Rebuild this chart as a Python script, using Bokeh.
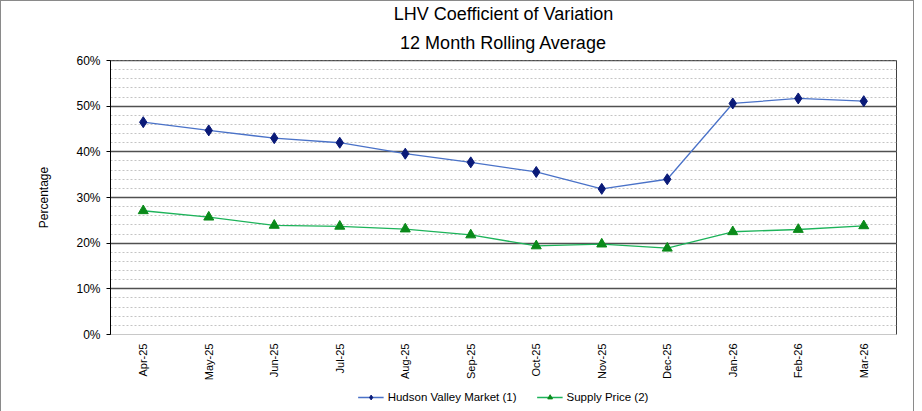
import math
from bokeh.plotting import figure
from bokeh.layouts import column
from bokeh.models import (ColumnDataSource, NumeralTickFormatter, SingleIntervalTicker,
                          Legend, LegendItem, FactorRange, Title, Range1d)
from bokeh.embed import file_html
from bokeh.resources import INLINE

months = ["Apr-25", "May-25", "Jun-25", "Jul-25", "Aug-25", "Sep-25",
          "Oct-25", "Nov-25", "Dec-25", "Jan-26", "Feb-26", "Mar-26"]
hudson_valley = [0.465, 0.447, 0.430, 0.420, 0.396, 0.377,
                 0.356, 0.319, 0.340, 0.506, 0.517, 0.511]
supply_price = [0.271, 0.257, 0.239, 0.237, 0.231, 0.218,
                0.194, 0.198, 0.189, 0.225, 0.230, 0.238]
series_names = ["Hudson Valley Market (1)", "Supply Price (2)"]

src = ColumnDataSource(dict(m=months, hv=hudson_valley, sp=supply_price))

FONT = "Liberation Sans"
HV_LINE, HV_MARK = "#4a72c8", "#0a1a78"
SP_LINE, SP_MARK = "#1db35a", "#0a8a1a"

p = figure(width=912, height=382, x_range=FactorRange(*months, range_padding=0),
           y_range=Range1d(0, 0.6001), output_backend="svg", toolbar_location=None,
           min_border_left=109, min_border_right=17, min_border_top=10,
           min_border_bottom=41, title=None)

sub = Title(text="12 Month Rolling Average", align="center", text_font=FONT,
            text_font_size="18px", text_font_style="normal", text_color="#000000",
            offset=0, standoff=15)
main = Title(text="LHV Coefficient of Variation", align="center", text_font=FONT,
             text_font_size="18px", text_font_style="normal", text_color="#000000",
             offset=0, standoff=0)
p.add_layout(sub, "above")
p.add_layout(main, "above")

p.outline_line_color = "#404040"
p.outline_line_width = 1

# y axis
p.yaxis.ticker = SingleIntervalTicker(interval=0.1, num_minor_ticks=5)
p.yaxis.formatter = NumeralTickFormatter(format="0%")
p.yaxis.axis_label = "Percentage"
p.yaxis.axis_label_text_font = FONT
p.yaxis.axis_label_text_font_size = "12px"
p.yaxis.axis_label_text_font_style = "normal"
p.yaxis.axis_label_text_color = "#000000"
p.yaxis.axis_label_standoff = 22
p.yaxis.major_label_text_font = FONT
p.yaxis.major_label_text_font_size = "12px"
p.yaxis.major_label_text_color = "#000000"
p.yaxis.axis_line_color = "#000000"
p.yaxis.major_tick_in = 0
p.yaxis.major_tick_out = 4
p.yaxis.minor_tick_line_color = None
p.yaxis.major_label_standoff = 6

# x axis
p.xaxis.major_label_orientation = math.pi / 2
p.xaxis.major_label_text_font = FONT
p.xaxis.major_label_text_font_size = "11px"
p.xaxis.major_label_text_color = "#000000"
p.xaxis.axis_line_color = "#c8c8c8"
p.xaxis.major_tick_line_color = None
p.xaxis.major_label_standoff = 3

# grids
p.xgrid.grid_line_color = None
p.ygrid.grid_line_color = "#505050"
p.ygrid.grid_line_width = 1.3
p.ygrid.minor_grid_line_color = "#c4c4c4"
p.ygrid.minor_grid_line_dash = "2 2"
p.ygrid.minor_grid_line_width = 1

p.line("m", "hv", source=src, line_color=HV_LINE, line_width=1.3)
p.scatter("m", "hv", source=src, marker="diamond", size=11,
          fill_color=HV_MARK, line_color=HV_MARK)
p.line("m", "sp", source=src, line_color=SP_LINE, line_width=1.3)
p.scatter("m", "sp", source=src, marker="triangle", size=10,
          fill_color=SP_MARK, line_color=SP_MARK)

# legend strip below the chart (its renderers lie outside its visible range)
leg = figure(width=912, height=28, x_range=p.x_range, y_range=Range1d(10, 11),
             output_backend="svg", toolbar_location=None, min_border=0,
             x_axis_location=None, y_axis_location=None)
leg.grid.visible = False
leg.outline_line_color = None
k1 = leg.line("m", "hv", source=src, line_color=HV_LINE, line_width=1.3)
k2 = leg.scatter("m", "hv", source=src, marker="diamond", size=9,
                 fill_color=HV_MARK, line_color=HV_MARK)
k3 = leg.line("m", "sp", source=src, line_color=SP_LINE, line_width=1.3)
k4 = leg.scatter("m", "sp", source=src, marker="triangle", size=9,
                 fill_color=SP_MARK, line_color=SP_MARK)
legend = Legend(items=[LegendItem(label=series_names[0], renderers=[k1, k2]),
                       LegendItem(label=series_names[1], renderers=[k3, k4])],
                orientation="horizontal", location="center",
                border_line_color=None, background_fill_alpha=0,
                label_text_font=FONT, label_text_font_size="11.5px",
                label_text_color="#000000",
                glyph_width=26, glyph_height=12, spacing=20, padding=4, margin=0,
                label_standoff=4, label_height=12)
leg.add_layout(legend)

layout = column(p, leg, spacing=0)
layout.styles = {"border": "1px solid #8a8a8a"}

open("out.html", "w").write(file_html(layout, INLINE))
